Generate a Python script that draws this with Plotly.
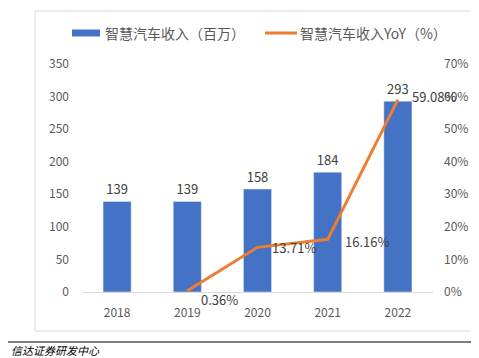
import plotly.graph_objects as go

years = ["2018", "2019", "2020", "2021", "2022"]
revenue = [139, 139, 158, 184, 293]
yoy = [None, 0.36, 13.71, 16.16, 59.08]
yoy_labels = ["", "0.36%", "13.71%", "16.16%", "59.08%"]
left_ticks = [0, 50, 100, 150, 200, 250, 300, 350]
right_ticks = [0, 10, 20, 30, 40, 50, 60, 70]
series_names = ["智慧汽车收入（百万）", "智慧汽车收入YoY（%）"]

FONT = "Noto Sans CJK SC"
TXT = "#404040"
BLUE = "#4472C4"
ORANGE = "#ED7D31"

fig = go.Figure()
fig.add_trace(go.Bar(
    x=years, y=revenue, name=series_names[0],
    marker_color=BLUE, width=0.4,
    text=[str(v) for v in revenue], textposition="outside",
    textfont=dict(size=13, color=TXT, family=FONT),
    cliponaxis=False,
))
fig.add_trace(go.Scatter(
    x=years, y=yoy, name=series_names[1], yaxis="y2",
    mode="lines", line=dict(color=ORANGE, width=3),
    cliponaxis=False,
))

# line value labels (x given as category index)
shifts = [None, (12, -9), (12, 0), (15, -2), (12, 3)]
for i, (v, lab, sh) in enumerate(zip(yoy, yoy_labels, shifts)):
    if v is None:
        continue
    fig.add_annotation(x=i, y=v, xref="x", yref="y2", text=lab, showarrow=False,
                       xanchor="left", yanchor="middle", xshift=sh[0], yshift=sh[1],
                       font=dict(size=13, color=TXT, family=FONT))

# page body has an 8px margin, so the figure is sized 8px smaller
fig.update_layout(
    width=471, height=350,
    margin=dict(l=74, r=46, t=56, b=66, autoexpand=False),
    paper_bgcolor="white", plot_bgcolor="white",
    font=dict(family=FONT, size=12, color="#595959"),
    showlegend=False,
    bargap=0.6,
    xaxis=dict(type="category", range=[-0.5, 4.5], autorange=False, showgrid=False,
               showline=True, linecolor="#D9D9D9", linewidth=1,
               ticks="", ticklabelstandoff=10, tickfont=dict(size=12, color="#595959")),
    yaxis=dict(range=[0, 350], tickvals=left_ticks, showgrid=False, zeroline=False,
               showline=False, ticklabelstandoff=12, tickfont=dict(size=12, color="#595959")),
    yaxis2=dict(range=[0, 70], tickvals=right_ticks, ticktext=[f"{v}%" for v in right_ticks],
                overlaying="y", side="right", showgrid=False, zeroline=False, showline=False,
                ticklabelstandoff=10, tickfont=dict(size=12, color="#595959")),
)

# reference pixel -> paper conversions: plot x 82..433, y 292..64 in page pixels
def px(x):
    return (x - 82) / 351.0

def py(y):
    return (292 - y) / 228.0

fig.add_shape(type="rect", xref="paper", yref="paper", x0=px(72), x1=px(100), y0=py(36.5), y1=py(29.5),
              line=dict(width=0), fillcolor=BLUE)
fig.add_annotation(xref="paper", yref="paper", x=px(103), y=py(33), xanchor="left", yanchor="middle",
                   text=series_names[0], showarrow=False, font=dict(size=14, color="#595959", family=FONT))
fig.add_shape(type="line", xref="paper", yref="paper", x0=px(265), x1=px(297), y0=py(33), y1=py(33),
              line=dict(color=ORANGE, width=3))
fig.add_annotation(xref="paper", yref="paper", x=px(298), y=py(33), xanchor="left", yanchor="middle",
                   text=series_names[1], showarrow=False, font=dict(size=14, color="#595959", family=FONT))

# chart border box and bottom rule
fig.add_shape(type="rect", xref="paper", yref="paper", x0=px(35), x1=px(482), y0=py(331), y1=py(11),
              line=dict(color="#D9D9D9", width=1), fillcolor="rgba(0,0,0,0)")
fig.add_shape(type="line", xref="paper", yref="paper", x0=px(8), x1=px(482), y0=py(342), y1=py(342),
              line=dict(color="#000000", width=1))
fig.add_annotation(xref="paper", yref="paper", x=px(9), y=py(350), xanchor="left", yanchor="middle",
                   text="<i>信达证券研发中心</i>", showarrow=False,
                   font=dict(size=11, color="#000000", family=FONT))

fig.write_html("out.html")
